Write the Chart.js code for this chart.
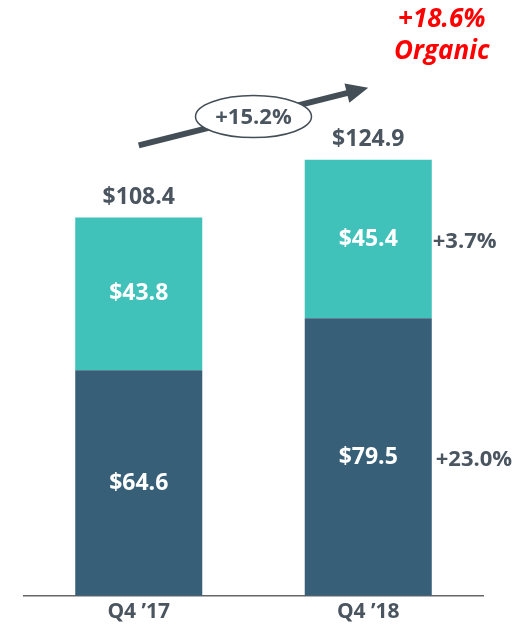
<!DOCTYPE html>
<html>
<head>
<meta charset="utf-8">
<script src="https://cdn.jsdelivr.net/npm/chart.js@4"></script>
<style>
  html, body { margin: 0; padding: 0; background: #ffffff; }
  #wrap { width: 529px; height: 632px; position: relative; }
</style>
</head>
<body>
<div id="wrap"><canvas id="c" width="529" height="632"></canvas></div>
<script>
// ---- data ----
const categories = ["Q4 \u201917", "Q4 \u201918"];
const baseValues = [64.6, 79.5];      // dark lower segment
const upperValues = [43.8, 45.4];     // teal upper segment
const totalLabels = ["$108.4", "$124.9"];
const segmentGrowth = { base: "+23.0%", upper: "+3.7%" };
const totalGrowth = "+15.2%";
const organicGrowth = ["+18.6%", "Organic"];

const DARK = "#385F78";
const TEAL = "#40C2BA";
const GRAY = "#4A5560";
const FONT = "'Open Sans', 'Noto Sans', sans-serif";

const labelPlugin = {
  id: "labels",
  afterDraw(chart) {
    const ctx = chart.ctx;
    const m0 = chart.getDatasetMeta(0);
    const m1 = chart.getDatasetMeta(1);
    ctx.save();
    ctx.textAlign = "center";
    ctx.textBaseline = "middle";
    ctx.font = "bold 23px " + FONT;
    // inner labels
    [m0, m1].forEach((meta, di) => {
      const vals = di === 0 ? baseValues : upperValues;
      meta.data.forEach((bar, i) => {
        ctx.fillStyle = "#ffffff";
        ctx.fillText("$" + vals[i].toFixed(1), bar.x, (bar.y + bar.base) / 2);
      });
    });
    // totals
    m1.data.forEach((bar, i) => {
      ctx.fillStyle = GRAY;
      ctx.fillText(totalLabels[i], bar.x, bar.y - 20);
    });
    // segment growth on right of 2nd bar
    const b0 = m0.data[1], b1 = m1.data[1];
    ctx.font = "bold 22px " + FONT;
    ctx.textAlign = "left";
    ctx.fillText(segmentGrowth.upper, b1.x + b1.width / 2 + 1, (b1.y + b1.base) / 2 + 3);
    ctx.fillText(segmentGrowth.base, b0.x + b0.width / 2 + 4, (b0.y + b0.base) / 2 + 3);

    // arrow
    const p0 = { x: m1.data[0].x, y: m1.data[0].y - 72 };
    const p1 = { x: m1.data[1].x, y: m1.data[1].y - 72 };
    const ang = Math.atan2(p1.y - p0.y, p1.x - p0.x);
    const headLen = 22, headHalf = 10;
    const bx = p1.x - headLen * Math.cos(ang), by = p1.y - headLen * Math.sin(ang);
    ctx.strokeStyle = "#444E57";
    ctx.fillStyle = "#444E57";
    ctx.lineWidth = 6;
    ctx.beginPath();
    ctx.moveTo(p0.x, p0.y);
    ctx.lineTo(bx + 3 * Math.cos(ang), by + 3 * Math.sin(ang));
    ctx.stroke();
    ctx.beginPath();
    ctx.moveTo(p1.x, p1.y);
    ctx.lineTo(bx - headHalf * Math.sin(ang), by + headHalf * Math.cos(ang));
    ctx.lineTo(bx + headHalf * Math.sin(ang), by - headHalf * Math.cos(ang));
    ctx.closePath();
    ctx.fill();
    // ellipse
    const mx = (p0.x + p1.x) / 2, my = (p0.y + p1.y) / 2;
    ctx.beginPath();
    ctx.ellipse(mx, my, 58, 21, 0, 0, Math.PI * 2);
    ctx.fillStyle = "#ffffff";
    ctx.fill();
    ctx.lineWidth = 1.5;
    ctx.strokeStyle = "#444E57";
    ctx.stroke();
    ctx.fillStyle = GRAY;
    ctx.textAlign = "center";
    ctx.fillText(totalGrowth, mx, my + 1);

    // organic
    ctx.fillStyle = "#FF0000";
    ctx.font = "italic bold 26px " + FONT;
    const ox = b1.x + b1.width / 2 + 10;
    ctx.fillText(organicGrowth[0], ox, 20);
    ctx.fillText(organicGrowth[1], ox, 52);
    ctx.restore();
  }
};

new Chart(document.getElementById("c"), {
  type: "bar",
  data: {
    labels: categories,
    datasets: [
      { label: "base", data: baseValues, backgroundColor: DARK, borderWidth: 0 },
      { label: "upper", data: upperValues, backgroundColor: TEAL, borderWidth: 0 }
    ]
  },
  options: {
    responsive: false,
    animation: false,
    devicePixelRatio: 1,
    layout: { padding: { left: 24, right: 46, top: 142, bottom: 3 } },
    plugins: { legend: { display: false }, tooltip: { enabled: false } },
    datasets: { bar: { barPercentage: 0.9, categoryPercentage: 0.615 } },
    scales: {
      x: {
        stacked: true,
        grid: { display: false, drawTicks: false },
        border: { display: true, color: "#666666", width: 1.5 },
        ticks: { color: GRAY, font: { family: FONT, size: 21, weight: "bold" }, padding: 4 }
      },
      y: {
        stacked: true,
        display: false,
        min: 0,
        max: 130
      }
    }
  },
  plugins: [labelPlugin]
});
</script>
</body>
</html>
